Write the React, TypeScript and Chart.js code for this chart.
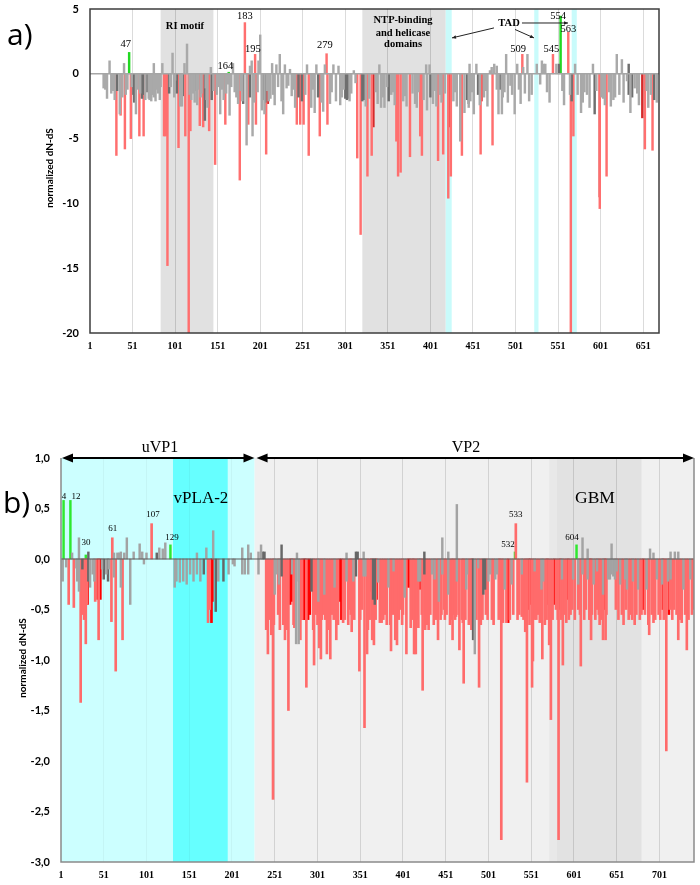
import React, { useEffect, useRef } from "react";
import { Chart, registerables } from "chart.js";
Chart.register(...registerables);

const SERIF = '"Liberation Serif", "Times New Roman", serif';
const SANS = 'Lato, "Open Sans", sans-serif';

// ---------------- Panel a data ----------------
const aXTicks = [1, 51, 101, 151, 201, 251, 301, 351, 401, 451, 501, 551, 601, 651];
const aYTicks = [-20, -15, -10, -5, 0, 5];
const aXMax = 669.6;

const aGray = [
  [17, -1.1], [19, -1.2], [21, -1.9], [24, 1.0], [26, -1.5], [28, -1.3], [30, -2.0], [36, -3.1], [39, -1.8], [41, 0.8],
  [43, -1.6], [45, -1.2], [50, -1.0], [55, -3.1], [57, -1.2], [60, -1.5], [66, -2.0], [70, -1.9], [71, -2.0], [73, -2.1],
  [74, -1.6], [76, 0.8], [76, -1.8], [78, -2.1], [79, -1.2], [81, -1.5], [83, -2.0], [84, -1.0], [86, 0.8], [95, -1.0],
  [96, -1.0], [98, 1.6], [100, -1.8], [101, -0.5], [107, -2.5], [109, -2.5], [112, 0.8], [115, 2.3], [118, -1.6],
  [120, -2.0], [121, -1.0], [122, -1.5], [124, -2.2], [127, -2.4], [128, -1.2], [131, -1.8], [132, -1.5], [137, -1.1],
  [138, -2.0], [139, -2.6], [143, 0.5], [146, -1.3], [150, -1.6], [152, -1.0], [154, -3.1], [156, -1.2], [158, -2.0],
  [161, -1.5], [163, -0.8], [165, -3.2], [167, -1.0], [169, 0.8], [171, -1.4], [173, -1.8], [175, -2.3],
  [178, -1.3], [180, -2.1], [185, -5.5], [189, 0.6], [191, 1.0], [192, -4.8], [194, -2.2], [198, -1.4], [199, 1.0],
  [201, 3.0], [203, -2.8], [206, -3.1], [209, -1.3], [211, -2.1], [213, -1.9], [215, 0.8], [216, -1.6], [218, -2.4],
  [220, 0.7], [222, -1.0], [224, 1.5], [226, -2.1], [228, -3.1], [230, 0.7], [232, -1.1], [234, -0.9], [236, 0.35],
  [238, -1.7], [240, -1.2], [242, -2.6], [254, -1.6], [256, 0.7], [261, -2.6], [263, -1.2], [265, -3.0], [267, 0.7],
  [273, -2.2], [275, -2.9], [277, 0.7], [283, -2.3], [285, -1.4], [287, 0.7], [290, -2.1], [293, 0.6], [295, -2.4],
  [297, -1.8], [299, -1.2], [306, -2.1], [308, -1.5], [311, 0.25], [313, -0.7], [325, -2.5], [329, -1.9], [337, -1.4],
  [339, -2.3], [341, 0.7], [343, -2.6], [345, -1.8], [347, -2.6], [350, -1.0], [355, -1.6], [357, -1.4], [359, -2.4],
  [369, -2.1], [371, -1.7], [373, -2.5], [380, -1.5], [383, -2.3], [385, -2.6], [387, -1.4], [393, -2.0], [396, 0.7],
  [397, -2.8], [400, 0.7], [404, -2.3], [406, -1.3], [408, -2.5], [412, -1.6], [414, -2.2], [418, -1.5], [428, -2.1],
  [430, -1.4], [432, -2.5], [436, -5.2], [441, -3.0], [446, -2.6],
  [447, 0.75], [448, -2.1], [450, -1.4], [452, -3.1], [455, 0.75], [459, -2.4], [464, -1.8], [466, -1.3], [468, -2.5],
  [471, 0.25], [473, 0.5], [476, 0.75], [479, 0.6], [479, -1.2], [481, -3.1], [485, -3.1], [486, -1.8], [488, -1.4],
  [490, 1.5], [492, -2.2], [495, -0.9], [497, -1.6], [500, -3.1], [503, 0.75], [505, -1.2], [507, -2.3], [510, 0.5],
  [512, -1.5], [515, 1.5], [517, -2.1], [520, -1.6], [526, 0.75], [530, -0.8], [532, 1.0], [534, 0.75], [536, 0.75],
  [538, -1.4], [541, -2.2], [549, 0.75], [556, -1.3], [558, -2.4], [565, -1.6], [571, 0.75], [574, -1.6], [578, -3.0],
  [580, -2.2], [582, -1.4], [585, -1.6], [588, -2.6], [592, 0.75], [596, -1.3], [602, -1.8], [604, -1.9], [606, -2.4],
  [611, -1.4], [613, -2.5], [616, -2.0], [618, -1.8], [620, 1.5], [623, -1.6], [626, 1.1], [628, -2.2], [632, -0.55],
  [636, -3.0], [641, -1.1], [644, -1.5], [646, -2.4], [655, -1.3], [657, -2.6], [660, -1.6], [667, -2.2],
];
const aDark = [
  [33, -1.3], [52, -1.6], [53, -2.2], [62, -1.9], [63, -1.6], [68, -1.4], [94, -1.5], [103, -1.5], [110, -1.7],
  [126, -1.3], [136, -3.6], [144, -2.0], [181, -2.3], [189, -1.8], [204, -2.0], [207, -2.2], [246, -1.8], [250, -2.1],
  [269, -1.8], [301, -1.9], [303, -2.0], [304, -1.9], [321, -2.1], [323, -2.0], [352, -2.1], [401, -1.8], [444, -2.0],
  [446, -2.3], [457, -1.6], [483, -1.2], [552, 0.75], [567, -2.1], [594, -3.1], [634, 0.75], [634, -1.6], [638, -1.8],
  [664, -2.0],
];
const aRed = [
  [32, -6.3], [37, -3.2], [42, -5.8], [49, -5.0], [59, -4.8], [64, -4.8], [88, -4.8], [90, -4.8], [92, -14.8],
  [105, -5.7], [113, -4.8], [117, -20], [119, -4.4], [130, -4.0], [134, -4.1], [141, -4.4], [148, -7.0], [160, -3.9],
  [177, -8.2], [183, 3.95], [187, -3.9], [195, 1.5], [196, -3.9], [208, -6.2], [244, -3.9], [248, -3.9], [252, -3.9],
  [258, -6.3], [271, -4.8], [279, 1.55], [280, -3.9], [315, -6.5], [319, -12.4], [327, -7.9], [332, -6.3], [361, -5.2],
  [363, -7.9], [366, -7.6], [377, -6.4], [389, -4.8], [391, -6.3], [410, -6.7], [416, -6.2], [422, -9.6], [425, -7.9],
  [438, -6.3], [460, -6.2], [474, -5.5], [509, 1.5], [545, 1.5], [563, 3.2], [566, -20], [569, -4.8], [600, -10.4],
  [608, -7.9], [653, -5.8], [662, -5.9],
];
const aDarkRed = [
  [90, -2.3], [91, -2.2], [205, -2.0], [210, -2.3], [334, -4.1], [389, -2.5], [424, -4.1], [461, -2.1], [600, -9.5],
  [650, -3.4],
];
const aGreen = [[47, 1.65], [164, 0.12], [554, 4.45]];

const aGrayBands = [[84, 146], [321, 419]];
const aCyanBands = [[419, 426], [523, 528], [567, 573]];
// label text, position, value (centre of text)
const aBarLabels: [string, number, number][] = [
  ["47", 43, 2.3], ["164", 160, 0.62], ["183", 183, 4.46], ["195", 192.5, 1.92], ["279", 277, 2.23],
  ["509", 504, 1.92], ["545", 543, 1.92], ["554", 551, 4.46], ["563", 563, 3.46],
];

// ---------------- Panel b data ----------------
const bXTicks = [1, 51, 101, 151, 201, 251, 301, 351, 401, 451, 501, 551, 601, 651, 701];
const bYTicks = [-3, -2.5, -2, -1.5, -1, -0.5, 0, 0.5, 1];
const bXMax = 741.4;

const bGray = [
  [3, -0.22], [7, -0.08], [14, 0.06], [19, -0.09], [20, -0.22], [22, 0.21], [22, -0.32], [35, -0.28], [38, -0.15],
  [40, -0.22], [49, -0.1], [54, -0.15], [57, -0.1], [63, -0.18], [63, 0.06], [67, 0.06], [69, 0.06], [71, -0.28],
  [71, 0.07], [75, 0.06], [78, 0.21], [82, -0.45], [86, 0.07], [93, 0.15], [96, 0.07], [98, -0.05], [101, 0.06],
  [116, 0.11], [120, 0.1], [123, 0.16], [134, -0.28], [136, -0.22], [140, -0.23], [144, -0.22], [148, -0.25],
  [152, -0.15], [156, -0.22], [160, 0.06], [160, -0.15], [164, -0.22], [171, 0.11], [179, 0.28], [185, -0.22],
  [197, -0.15], [202, -0.05], [204, -0.07], [213, 0.11], [213, -0.15], [216, -0.15], [220, 0.14], [220, -0.15],
  [223, 0.06], [232, 0.07], [232, -0.15], [235, 0.14],
  [251, -0.35], [253, -0.15], [256, -0.25], [271, -0.15], [277, 0.06], [276, -0.84], [279, -0.84], [279, -0.22],
  [302, -0.42], [309, -0.35], [321, -0.28], [335, 0.06], [335, -0.22], [343, -0.22], [355, 0.07], [355, -0.17],
  [357, -0.17], [372, -0.23], [384, -0.28], [390, -0.12], [403, -0.38], [419, -0.22], [421, -0.22], [435, -0.15],
  [438, -0.2], [443, -0.42], [447, 0.21], [447, -0.15], [454, 0.07], [454, -0.35], [464, 0.54], [464, -0.22],
  [475, -0.3], [476, -0.15], [485, -0.94], [489, -0.09], [501, -0.22], [503, -0.15], [509, -0.2], [511, -0.15],
  [520, -0.3], [528, -0.25], [540, -0.15], [555, -0.12], [563, -0.3], [565, -0.22], [587, -0.2], [600, -0.2],
  [606, -0.25], [611, 0.21], [611, -0.15], [617, 0.1], [617, -0.2], [624, -0.25], [628, -0.12], [635, -0.35],
  [641, -0.2], [643, -0.2], [645, 0.15], [645, -0.15], [647, -0.17], [649, -0.2], [651, -0.12], [655, -0.25],
  [661, -0.2], [663, -0.3], [670, -0.22], [676, -0.3], [686, -0.3], [690, 0.1], [694, 0.06], [698, -0.2],
  [704, -0.25], [711, -0.22], [714, 0.07], [714, -0.2], [719, 0.07], [723, 0.07], [729, -0.3], [737, -0.2],
];
const bDark = [
  [26, -0.1], [33, 0.07], [33, -0.22], [51, -0.2], [56, -0.22], [113, 0.06], [168, -0.15], [182, -0.52], [191, -0.22],
  [237, 0.07], [239, 0.07], [259, 0.14], [259, -0.17], [294, -0.32], [346, 0.07], [346, -0.17], [348, 0.07],
  [366, -0.4], [368, -0.45], [426, 0.07], [426, -0.15], [483, -0.8], [495, -0.35], [497, -0.3],
];
const bRed = [
  [10, -0.45], [16, -0.48], [24, -1.42], [27, -0.55], [28, -0.6], [30, -0.84], [31, -0.45], [41, -0.42], [45, -0.8],
  [60, -0.62], [61, 0.21], [65, -1.11], [73, -0.8], [107, 0.35], [173, -0.63], [175, -0.5],
  [241, -0.7], [243, -0.94], [245, -0.6], [247, -0.75], [249, -2.38], [250, -0.65], [255, -0.55], [257, -0.7],
  [261, -0.65], [263, -0.8], [265, -0.7], [267, -1.5], [273, -0.65], [274, -0.68], [281, -0.8], [283, -0.6],
  [288, -1.27], [296, -0.7], [297, -1.05], [299, -0.55], [301, -0.65], [303, -0.88], [305, -0.99], [306, -0.6],
  [308, -0.55], [310, -0.6], [312, -0.94], [314, -0.7], [316, -0.99], [318, -0.55], [320, -0.6], [323, -0.8],
  [325, -0.65], [331, -0.63], [333, -0.6], [337, -0.65], [339, -0.5], [340, -0.55], [341, -0.72], [344, -0.6],
  [350, -1.11], [351, -0.6], [353, -0.5], [356, -1.67], [359, -0.94], [360, -0.7], [362, -0.6], [365, -0.8],
  [367, -0.85], [369, -0.6], [374, -0.63], [376, -0.63], [378, -0.6], [380, -0.55], [382, -0.65], [386, -0.65],
  [387, -0.91], [389, -0.55], [392, -0.8], [394, -0.85], [396, -0.6], [398, -0.5], [400, -0.65], [401, -0.55],
  [405, -0.94], [410, -0.68], [412, -0.6], [414, -0.94], [416, -0.94], [417, -0.6], [419, -0.68], [423, -0.55],
  [424, -1.3], [427, -0.7], [429, -0.65], [431, -0.7], [433, -0.55], [437, -0.65], [440, -0.6], [442, -0.8],
  [445, -0.6], [446, -0.55], [449, -0.5], [450, -0.6], [452, -0.55], [456, -0.65], [458, -0.6], [459, -0.8],
  [460, -0.55], [462, -0.6], [463, -0.57], [466, -0.55], [467, -0.9], [470, -0.6], [471, -0.63], [472, -1.23],
  [474, -0.6], [478, -0.65], [479, -0.6], [481, -0.7], [487, -0.6], [490, -1.27], [492, -0.65], [494, -0.6],
  [498, -0.55], [500, -0.6], [505, -0.6], [507, -0.65], [513, -0.6], [516, -2.78], [517, -0.6], [518, -0.63],
  [522, -0.63], [526, -0.6], [530, -0.55], [533, 0.35], [535, -0.6], [537, -0.55], [540, -0.57], [542, -0.6],
  [544, -0.72], [545, -0.55], [546, -2.21], [549, -0.65], [552, -1.27], [553, -1.01], [555, -0.6], [557, -0.6],
  [559, -0.55], [561, -0.63], [564, -0.99], [567, -0.65], [569, -0.6], [572, -0.85], [574, -1.59], [576, -0.6],
  [580, -0.5], [582, -0.6], [583, -2.78], [586, -0.6], [588, -1.05], [590, -0.55], [592, -0.63], [595, -0.6],
  [597, -0.55], [599, -0.5], [602, -0.6], [606, -0.5], [608, -0.55], [609, -1.06], [613, -0.6], [615, -0.5],
  [619, -0.6], [621, -0.8], [622, -0.55], [626, -0.6], [628, -0.5], [630, -0.55], [631, -0.65], [633, -0.6],
  [635, -0.8], [638, -0.8], [639, -0.55], [650, -0.5], [653, -0.6], [657, -0.55], [659, -0.65], [662, -0.5],
  [665, -0.6], [667, -0.55], [669, -0.6], [672, -0.65], [674, -0.55], [678, -0.6], [680, -0.55], [684, -0.55],
  [688, -0.65], [689, -0.75], [692, -0.55], [694, -0.63], [696, -0.6], [700, -0.55], [702, -0.6], [706, -0.6],
  [708, -0.55], [709, -1.9], [713, -0.5], [716, -0.6], [718, -0.5], [721, -0.55], [723, -0.8], [725, -0.6],
  [727, -0.63], [731, -0.55], [733, -0.9], [735, -0.6], [739, -0.55], [741, -0.5],
];
const bDeep = [
  [32, -0.45], [44, -0.4], [47, -0.4], [177, -0.63], [178, -0.42],
  [269, -0.45], [271, -0.42], [284, -0.6], [286, -0.6], [287, -0.6], [290, -0.6], [292, -0.55], [327, -0.42],
  [329, -0.6], [364, -0.32], [370, -0.4], [407, -0.28], [409, -0.28], [413, -0.28], [421, -0.3], [482, -0.6],
  [514, -0.45], [524, -0.63], [548, -0.5], [550, -0.45], [570, -0.45], [578, -0.45], [585, -0.5], [594, -0.4],
  [620, -0.6], [637, -0.5], [682, -0.5], [705, -0.5], [712, -0.55],
];
const bGreen = [[4, 0.58], [12, 0.58], [30, 0.04], [129, 0.14], [532, 0.07], [604, 0.14]];

const bLightCyan = [1, 227.5];
const bBrightCyan = [132, 196];
const bGrayBand = [227.5, 741.4];
const bGbmBands = [[572, 581, "#e8e8e8"], [581, 680, "#e2e2e2"]] as [number, number, string][];
const bBarLabels: [string, number, number][] = [
  ["4", 4.5, 0.62], ["12", 18.5, 0.62], ["30", 30.2, 0.16], ["61", 61.5, 0.3], ["107", 108.6, 0.44],
  ["129", 130.8, 0.21], ["532", 523.8, 0.14], ["533", 532.8, 0.44], ["604", 598.7, 0.21],
];

// ---------------- helpers ----------------
const pts = (arr: number[][]) => arr.map(([x, y]) => ({ x, y }));
const barDs = (arr: number[][], color: string, thick: number) => ({
  type: "bar" as const,
  data: pts(arr),
  backgroundColor: color,
  borderWidth: 0,
  barThickness: thick,
  grouped: false,
});

function arrowHead(ctx: CanvasRenderingContext2D, x1: number, y1: number, x2: number, y2: number, len: number, half: number) {
  const ang = Math.atan2(y2 - y1, x2 - x1);
  ctx.beginPath();
  ctx.moveTo(x2, y2);
  ctx.lineTo(x2 - len * Math.cos(ang) + half * Math.sin(ang), y2 - len * Math.sin(ang) - half * Math.cos(ang));
  ctx.lineTo(x2 - len * Math.cos(ang) - half * Math.sin(ang), y2 - len * Math.sin(ang) + half * Math.cos(ang));
  ctx.closePath();
  ctx.fill();
}

function text(ctx: CanvasRenderingContext2D, t: string, x: number, y: number, font: string, align: CanvasTextAlign = "center") {
  ctx.font = font;
  ctx.textAlign = align;
  ctx.textBaseline = "middle";
  ctx.fillStyle = "#000";
  ctx.fillText(t, x, y);
}

const panelAPlugin = {
  id: "panelA",
  beforeDraw(chart: any) {
    const { ctx, chartArea: ca, scales } = chart;
    const xs = scales.x;
    ctx.save();
    ctx.fillStyle = "#e1e1e1";
    for (const [s, e] of aGrayBands) {
      const x1 = xs.getPixelForValue(s), x2 = xs.getPixelForValue(e);
      ctx.fillRect(x1, ca.top, x2 - x1, ca.bottom - ca.top);
    }
    ctx.fillStyle = "#c9fbfb";
    for (const [s, e] of aCyanBands) {
      const x1 = xs.getPixelForValue(s), x2 = xs.getPixelForValue(e);
      ctx.fillRect(x1, ca.top, x2 - x1, ca.bottom - ca.top);
    }
    ctx.restore();
  },
  afterDatasetsDraw(chart: any) {
    const { ctx, chartArea: ca, scales } = chart;
    const xs = scales.x, ys = scales.y;
    const X = (v: number) => xs.getPixelForValue(v);
    const Y = (v: number) => ys.getPixelForValue(v);
    ctx.save();
    ctx.strokeStyle = "#a6a6a6";
    ctx.lineWidth = 1.5;
    ctx.beginPath();
    ctx.moveTo(ca.left, Y(0));
    ctx.lineTo(ca.right, Y(0));
    ctx.stroke();
    ctx.strokeStyle = "#3c3c3c";
    ctx.lineWidth = 1.5;
    ctx.strokeRect(ca.left, ca.top, ca.right - ca.left, ca.bottom - ca.top);
    for (const [t, p, v] of aBarLabels) text(ctx, t, X(p), Y(v), `10.5px ${SERIF}`);
    text(ctx, "RI motif", X(112.6), Y(3.7), `bold 10.5px ${SERIF}`);
    text(ctx, "NTP-binding", X(368.8), Y(4.15), `bold 10.5px ${SERIF}`);
    text(ctx, "and helicase", X(368.8), Y(3.15), `bold 10.5px ${SERIF}`);
    text(ctx, "domains", X(368.8), Y(2.3), `bold 10.5px ${SERIF}`);
    text(ctx, "TAD", X(493.4), Y(3.92), `bold 10.5px ${SERIF}`);
    ctx.strokeStyle = "#222";
    ctx.fillStyle = "#222";
    ctx.lineWidth = 1;
    const arrows = [[475.7, 3.54, 426.4, 2.77], [500.4, 3.42, 522.7, 2.77], [508.6, 3.92, 562.7, 3.92]];
    for (const [p1, v1, p2, v2] of arrows) {
      ctx.beginPath();
      ctx.moveTo(X(p1), Y(v1));
      ctx.lineTo(X(p2), Y(v2));
      ctx.stroke();
      arrowHead(ctx, X(p1), Y(v1), X(p2), Y(v2), 4, 1.8);
    }
    text(ctx, "a)", 7, 36, `30px "Open Sans", sans-serif`, "left");
    ctx.save();
    ctx.translate(ca.left - 40, (ca.top + ca.bottom) / 2 - 3);
    ctx.rotate(-Math.PI / 2);
    text(ctx, "normalized dN-dS", 0, 0, `bold 10px ${SANS}`);
    ctx.restore();
    ctx.restore();
  },
};

const panelBPlugin = {
  id: "panelB",
  beforeDraw(chart: any) {
    const { ctx, chartArea: ca, scales } = chart;
    const xs = scales.x;
    const band = (s: number, e: number, c: string) => {
      const x1 = xs.getPixelForValue(s), x2 = xs.getPixelForValue(e);
      ctx.fillStyle = c;
      ctx.fillRect(x1, ca.top, x2 - x1, ca.bottom - ca.top);
    };
    ctx.save();
    band(bLightCyan[0], bLightCyan[1], "#ccffff");
    band(bBrightCyan[0], bBrightCyan[1], "#66ffff");
    band(bGrayBand[0], bGrayBand[1], "#f0f0f0");
    for (const [s, e, c] of bGbmBands) band(s, e, c);
    ctx.restore();
  },
  afterDatasetsDraw(chart: any) {
    const { ctx, chartArea: ca, scales } = chart;
    const xs = scales.x, ys = scales.y;
    const X = (v: number) => xs.getPixelForValue(v);
    const Y = (v: number) => ys.getPixelForValue(v);
    ctx.save();
    ctx.strokeStyle = "#5a5a5a";
    ctx.lineWidth = 1.2;
    ctx.beginPath();
    ctx.moveTo(ca.left, Y(0));
    ctx.lineTo(ca.right, Y(0));
    ctx.stroke();
    ctx.strokeStyle = "#8a8a8a";
    ctx.lineWidth = 1.5;
    ctx.beginPath();
    ctx.moveTo(ca.left, ca.top);
    ctx.lineTo(ca.left, ca.bottom);
    ctx.lineTo(ca.right, ca.bottom);
    ctx.lineTo(ca.right, ca.top);
    ctx.stroke();
    ctx.strokeStyle = "#000";
    ctx.fillStyle = "#000";
    ctx.lineWidth = 2;
    const top = Y(1);
    const spans = [[1, 227.3], [228.6, bXMax]];
    for (const [s, e] of spans) {
      const x1 = X(s) + 1, x2 = X(e);
      ctx.beginPath();
      ctx.moveTo(x1 + 6, top);
      ctx.lineTo(x2 - 6, top);
      ctx.stroke();
      arrowHead(ctx, x2, top, x1, top, 11, 4.5);
      arrowHead(ctx, x1, top, x2, top, 11, 4.5);
    }
    text(ctx, "uVP1", X(116.8), Y(1.1), `16px ${SERIF}`);
    text(ctx, "VP2", X(474.7), Y(1.1), `16px ${SERIF}`);
    text(ctx, "vPLA-2", X(164.7), Y(0.6), `17px ${SERIF}`);
    text(ctx, "GBM", X(625.6), Y(0.6), `17.5px ${SERIF}`);
    for (const [t, p, v] of bBarLabels) text(ctx, t, X(p), Y(v), `9px ${SERIF}`);
    text(ctx, "b)", 3, 104, `30px "Open Sans", sans-serif`, "left");
    ctx.save();
    ctx.translate(ca.left - 38, (ca.top + ca.bottom) / 2 - 2);
    ctx.rotate(-Math.PI / 2);
    text(ctx, "normalized dN-dS", 0, 0, `bold 10px ${SANS}`);
    ctx.restore();
    ctx.restore();
  },
};

function makeConfig(opts: {
  datasets: any[];
  xTicks: number[];
  yTicks: number[];
  xMax: number;
  yMin: number;
  yMax: number;
  yWidth: number;
  xHeight: number;
  padTop: number;
  padRight: number;
  gridColor: (v: number) => string;
  yFmt: (v: number) => string;
  plugin: any;
}): any {
  return {
    type: "bar",
    data: { datasets: opts.datasets },
    plugins: [opts.plugin],
    options: {
      responsive: false,
      animation: false,
      devicePixelRatio: 1,
      events: [],
      layout: { autoPadding: false, padding: { top: opts.padTop, right: opts.padRight, left: 0, bottom: 0 } },
      plugins: { legend: { display: false }, tooltip: { enabled: false } },
      scales: {
        x: {
          type: "linear",
          min: 1,
          max: opts.xMax,
          offset: false,
          afterBuildTicks: (s: any) => {
            s.ticks = opts.xTicks.map((v) => ({ value: v }));
          },
          afterFit: (s: any) => {
            s.height = opts.xHeight;
            s.paddingLeft = 0;
            s.paddingRight = 0;
            s.paddingTop = 0;
            s.paddingBottom = 0;
          },
          border: { display: false },
          grid: {
            offset: false,
            drawTicks: false,
            lineWidth: 1,
            color: (c: any) => opts.gridColor(c.tick ? c.tick.value : 0),
          },
          ticks: {
            autoSkip: false,
            maxRotation: 0,
            padding: 7,
            color: "#000",
            font: { family: SERIF, size: 10, weight: "bold" },
            callback: (v: any) => String(v),
          },
        },
        y: {
          type: "linear",
          min: opts.yMin,
          max: opts.yMax,
          afterBuildTicks: (s: any) => {
            s.ticks = opts.yTicks.map((v) => ({ value: v }));
          },
          afterFit: (s: any) => {
            s.width = opts.yWidth;
            s.paddingLeft = 0;
            s.paddingRight = 0;
            s.paddingTop = 0;
            s.paddingBottom = 0;
          },
          border: { display: false },
          grid: { display: false, drawTicks: false },
          ticks: {
            padding: 11,
            color: "#000",
            font: { family: SANS, size: 11, weight: "bold" },
            callback: (v: any) => opts.yFmt(Number(v)),
          },
        },
      },
    },
  };
}

export default function App() {
  const refA = useRef<HTMLCanvasElement>(null);
  const refB = useRef<HTMLCanvasElement>(null);

  useEffect(() => {
    const ca = new Chart(
      refA.current!,
      makeConfig({
        datasets: [
          barDs(aGray, "#a9a9a9", 1.8),
          barDs(aDark, "#6e6e6e", 1.8),
          barDs(aRed, "#ff6f6f", 1.8),
          barDs(aDarkRed, "#d42a2a", 1.8),
          barDs(aGreen, "#22d822", 1.8),
        ],
        xTicks: aXTicks,
        yTicks: aYTicks,
        xMax: aXMax,
        yMin: -20,
        yMax: 5,
        yWidth: 90,
        xHeight: 27,
        padTop: 9,
        padRight: 41,
        gridColor: (v) => (v === 1 ? "rgba(0,0,0,0)" : "rgba(0,0,0,0.14)"),
        yFmt: (v) => String(v),
        plugin: panelAPlugin,
      })
    );
    const cb = new Chart(
      refB.current!,
      makeConfig({
        datasets: [
          barDs(bGray, "#a3a3a3", 1.8),
          barDs(bDark, "#676767", 1.8),
          barDs(bRed, "#ff6b6b", 2),
          barDs(bDeep, "#ff0000", 2),
          barDs(bGreen, "#2ee82e", 1.8),
        ],
        xTicks: bXTicks,
        yTicks: bYTicks,
        xMax: bXMax,
        yMin: -3,
        yMax: 1,
        yWidth: 61,
        xHeight: 23,
        padTop: 58,
        padRight: 6,
        gridColor: (v) => (v === 1 ? "rgba(0,0,0,0)" : v < 228 ? "rgba(0,0,0,0.04)" : "rgba(0,0,0,0.12)"),
        yFmt: (v) => v.toFixed(1).replace(".", ","),
        plugin: panelBPlugin,
      })
    );
    return () => {
      ca.destroy();
      cb.destroy();
    };
  }, []);

  return (
    <div style={{ position: "absolute", left: 0, top: 0, width: 700, height: 885, background: "#fff", overflow: "hidden" }}>
      <canvas ref={refA} width={700} height={360} style={{ position: "absolute", left: 0, top: 0, width: 700, height: 360 }} />
      <canvas ref={refB} width={700} height={485} style={{ position: "absolute", left: 0, top: 400, width: 700, height: 485 }} />
    </div>
  );
}
